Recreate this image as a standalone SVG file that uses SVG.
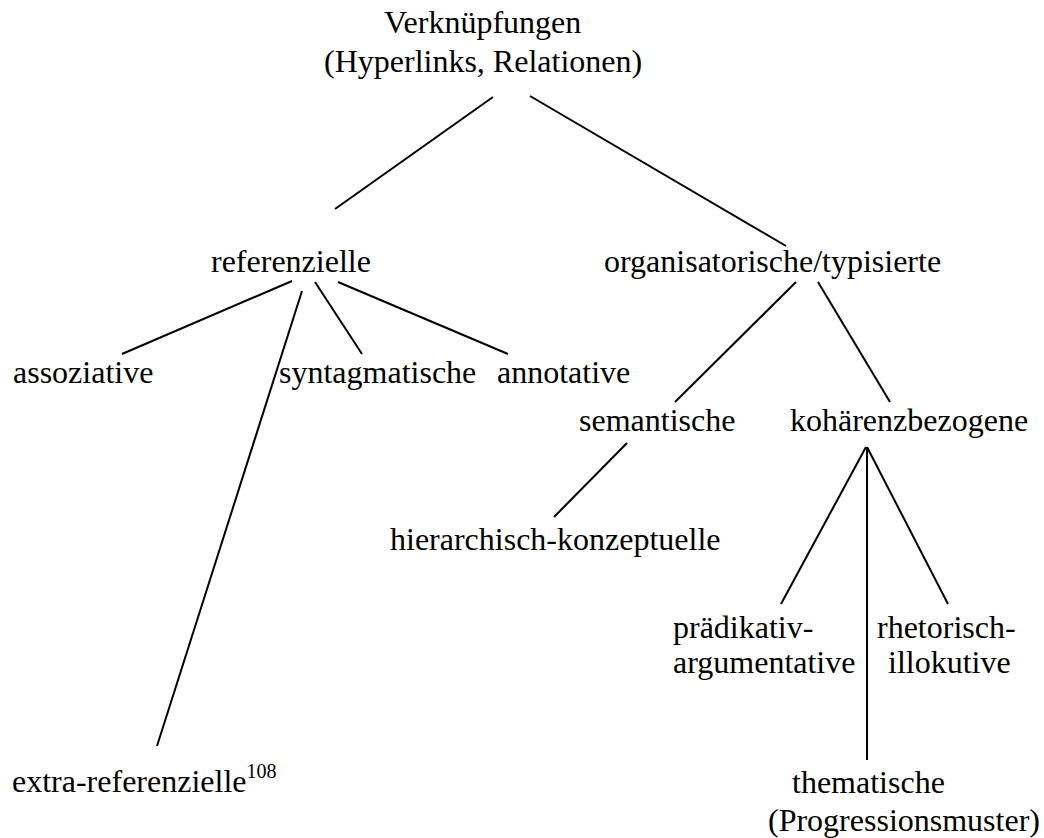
<svg xmlns="http://www.w3.org/2000/svg" width="1044" height="838" viewBox="0 0 1044 838">
  <style>
    text { font-family: "Liberation Serif", "Times New Roman", serif; font-size: 32px; fill: #000; }
    .sup { font-size: 20px; }
    #connectors line { stroke: #000; stroke-width: 2; stroke-linecap: butt; }
  </style>
  <rect width="1044" height="838" fill="#fff"/>

  <!-- tree edges -->
  <g id="connectors">
    <line x1="493" y1="97" x2="335" y2="209"/>
    <line x1="530" y1="96" x2="786" y2="246"/>
    <line x1="292" y1="281" x2="122" y2="354"/>
    <line x1="302" y1="291" x2="157" y2="746"/>
    <line x1="315" y1="282" x2="362" y2="354"/>
    <line x1="338" y1="282" x2="508" y2="354"/>
    <line x1="796" y1="282" x2="675" y2="402"/>
    <line x1="818" y1="282" x2="890" y2="402"/>
    <line x1="627" y1="443" x2="554" y2="517"/>
    <line x1="866" y1="447" x2="781" y2="604"/>
    <line x1="867" y1="447" x2="867" y2="760"/>
    <line x1="867" y1="447" x2="948" y2="604"/>
  </g>

  <!-- labels -->
  <g id="node-verknuepfungen">
    <text x="384" y="33">Verknüpfungen</text>
    <text x="324" y="72">(Hyperlinks, Relationen)</text>
  </g>
  <g id="node-referenzielle"><text x="211" y="272">referenzielle</text></g>
  <g id="node-organisatorisch"><text x="604" y="272">organisatorische/typisierte</text></g>
  <g id="node-assoziative"><text x="13" y="383">assoziative</text></g>
  <g id="node-syntagmatische"><text x="279" y="383">syntagmatische</text></g>
  <g id="node-annotative"><text x="497" y="383">annotative</text></g>
  <g id="node-semantische"><text x="579" y="431">semantische</text></g>
  <g id="node-kohaerenz"><text x="790" y="431">kohärenzbezogene</text></g>
  <g id="node-hierarchisch"><text x="390" y="550">hierarchisch-konzeptuelle</text></g>
  <g id="node-praedikativ">
    <text x="673" y="638">prädikativ-</text>
    <text x="673" y="673">argumentative</text>
  </g>
  <g id="node-rhetorisch">
    <text x="877" y="638">rhetorisch-</text>
    <text x="888" y="673">illokutive</text>
  </g>
  <g id="node-thematische">
    <text x="792" y="793">thematische</text>
    <text x="768" y="831">(Progressionsmuster)</text>
  </g>
  <g id="node-extra">
    <text x="12" y="792">extra-referenzielle<tspan class="sup" dy="-14">108</tspan></text>
  </g>
</svg>
